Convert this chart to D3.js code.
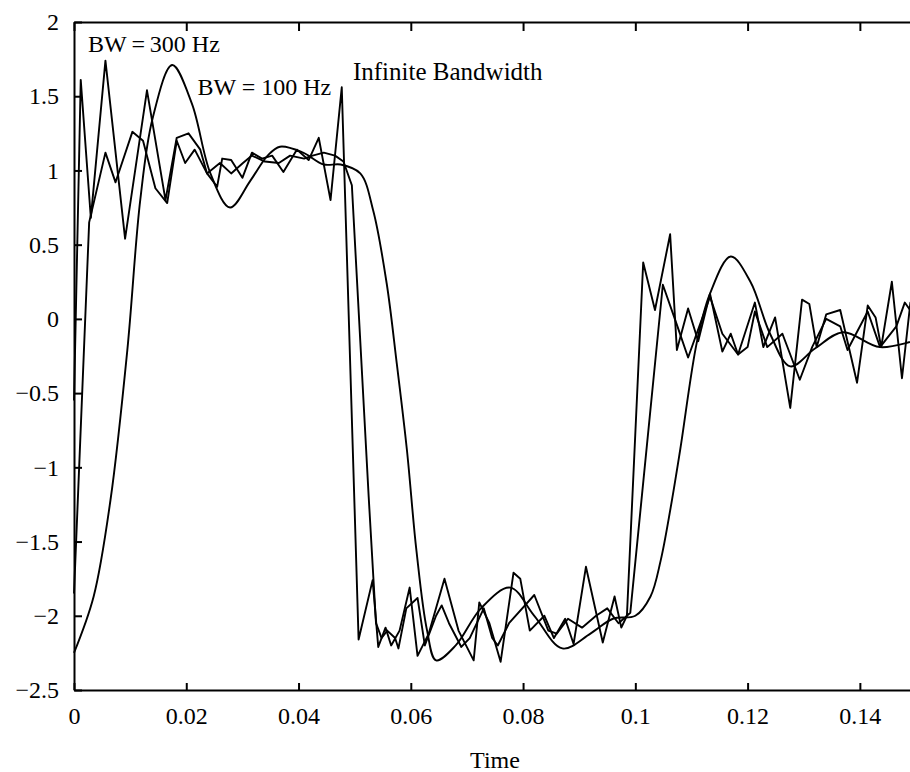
<!DOCTYPE html>
<html>
<head>
<meta charset="utf-8">
<title>Filtered signal</title>
<script src="https://cdn.jsdelivr.net/npm/d3@7"></script>
<style>
body, html {
  margin: 0;
  padding: 0;
  background: white;
  overflow: hidden;
}
text {
  font-family: "Liberation Serif", "DejaVu Serif", serif;
  fill: black;
}
.axis path,
.axis line {
  fill: none;
  stroke: black;
  stroke-width: 2;
}
.axis text {
  font-size: 24px;
}
.sig {
  fill: none;
  stroke: black;
  stroke-width: 1.9;
  stroke-linejoin: round;
}
</style>
</head>
<body>
<div id="chart"></div>
<script>

// tick labels
var xTicks = [0, 0.02, 0.04, 0.06, 0.08, 0.1, 0.12, 0.14]
var yTicks = [-2.5, -2, -1.5, -1, -0.5, 0, 0.5, 1, 1.5, 2]

// BW = 100 Hz (smooth), [time, value]
var bw100 = [
  [0, -2.25], [0.0035, -1.87], [0.0065, -1.22], [0.0095, -0.21], [0.0118, 0.8],
  [0.014, 1.35], [0.0175, 1.71], [0.021, 1.45], [0.0243, 0.98], [0.0278, 0.75],
  [0.0314, 0.93], [0.0345, 1.1], [0.0367, 1.16], [0.0408, 1.12], [0.0445, 1.04],
  [0.0475, 1.04], [0.051, 0.98], [0.0533, 0.73], [0.0557, 0.24], [0.0575, -0.3],
  [0.0593, -0.88], [0.061, -1.56], [0.0629, -2.1], [0.0645, -2.3], [0.068, -2.2],
  [0.0725, -1.95], [0.0777, -1.81], [0.082, -2.0], [0.087, -2.22], [0.092, -2.12],
  [0.096, -2.02], [0.1, -2.0], [0.1027, -1.87], [0.1045, -1.63], [0.1063, -1.27],
  [0.108, -0.88], [0.111, -0.15], [0.1133, 0.17], [0.117, 0.42], [0.1205, 0.25],
  [0.124, -0.1], [0.1276, -0.32], [0.132, -0.2], [0.137, -0.09], [0.1436, -0.19],
  [0.151, -0.13]
]

// BW = 300 Hz
var bw300 = [
  [0, -1.85], [0.0027, 0.65], [0.0056, 1.12], [0.0074, 0.92], [0.0104, 1.26],
  [0.0123, 1.2], [0.0145, 0.88], [0.0166, 0.78], [0.0183, 1.2], [0.0198, 1.05],
  [0.0215, 1.14], [0.0237, 0.98], [0.026, 1.05], [0.028, 0.98], [0.0301, 1.05],
  [0.0317, 1.1], [0.034, 1.06], [0.0365, 1.05], [0.0385, 1.1], [0.041, 1.08],
  [0.0425, 1.1], [0.0445, 1.12], [0.0465, 1.1], [0.048, 1.06], [0.0495, 0.9],
  [0.0525, -1.2], [0.0538, -2.05], [0.0548, -2.15], [0.0558, -2.1], [0.0572, -2.15],
  [0.0578, -2.22], [0.0592, -1.95], [0.0612, -1.88], [0.0625, -2.2], [0.0645, -2.0],
  [0.0655, -1.93], [0.0668, -2.05], [0.069, -2.21], [0.0705, -2.15], [0.073, -1.95],
  [0.0745, -2.15], [0.0755, -2.2], [0.0775, -2.05], [0.082, -1.86], [0.0845, -2.1],
  [0.086, -2.12], [0.088, -2.02], [0.0905, -2.08], [0.093, -2.0], [0.095, -1.95],
  [0.097, -2.05], [0.0991, -1.98], [0.1049, 0.23], [0.1075, -0.05], [0.1094, -0.26],
  [0.1133, 0.15], [0.1155, -0.1], [0.1183, -0.24], [0.12, -0.19], [0.1213, 0.05],
  [0.1235, -0.19], [0.1262, -0.1], [0.1293, -0.41], [0.1315, -0.19], [0.134, 0.0],
  [0.1365, -0.05], [0.1378, -0.21], [0.1414, 0.05], [0.1436, -0.19], [0.1465, -0.05],
  [0.148, 0.11], [0.151, -0.05]
]

// infinite bandwidth
var bwInf = [
  [0, -0.55], [0.0012, 1.61], [0.003, 0.68], [0.0056, 1.74], [0.0091, 0.54],
  [0.013, 1.54], [0.0163, 0.8], [0.0183, 1.22], [0.0204, 1.25], [0.0225, 1.14],
  [0.0237, 0.98], [0.0255, 0.89], [0.0264, 1.08], [0.028, 1.07], [0.03, 0.95],
  [0.0317, 1.12], [0.0335, 1.08], [0.0353, 1.1], [0.0373, 0.99], [0.0397, 1.14],
  [0.0418, 1.07], [0.0436, 1.22], [0.0457, 0.8], [0.0477, 1.56], [0.0507, -2.16],
  [0.0532, -1.76], [0.0542, -2.21], [0.0555, -2.08], [0.0565, -2.2], [0.058, -2.1],
  [0.0598, -1.81], [0.0612, -2.27], [0.0632, -2.12], [0.066, -1.75], [0.0685, -2.1],
  [0.0712, -2.3], [0.0722, -1.91], [0.074, -2.05], [0.076, -2.31], [0.0783, -1.71],
  [0.0795, -1.75], [0.0812, -2.1], [0.0838, -2.0], [0.0855, -2.15], [0.0875, -2.02],
  [0.089, -2.19], [0.0912, -1.67], [0.0942, -2.18], [0.0963, -1.87], [0.0975, -2.08],
  [0.0985, -2.0], [0.1014, 0.38], [0.1035, 0.06], [0.1062, 0.57], [0.1074, -0.21],
  [0.1094, 0.07], [0.1112, -0.15], [0.1133, 0.17], [0.1155, -0.22], [0.117, -0.1],
  [0.1183, -0.24], [0.1213, 0.11], [0.1228, -0.19], [0.1249, 0.01], [0.1276, -0.6],
  [0.1297, 0.13], [0.131, 0.1], [0.1323, -0.19], [0.134, 0.03], [0.1365, 0.06],
  [0.1395, -0.43], [0.1414, 0.09], [0.1428, 0.01], [0.1438, -0.19], [0.1457, 0.25],
  [0.1475, -0.4], [0.149, 0.11], [0.151, 0.0]
]

var labels = [
  {text: "BW\u2009=\u2009300 Hz", t: 0.0025, v: 1.8, size: 24},
  {text: "BW = 100 Hz", t: 0.022, v: 1.51, size: 24},
  {text: "Infinite Bandwidth", t: 0.0497, v: 1.61, size: 25}
]

var W = 910, H = 772
var svg = d3.select("#chart").append("svg")
  .attr("width", W)
  .attr("height", H)

var x = d3.scaleLinear().domain([0, 0.15]).range([74, 916])
var y = d3.scaleLinear().domain([-2.5, 2]).range([690, 22])

var fmt = function(d) { return d3.format("")(d).replace("-", "\u2212") }

// bottom axis, ticks pointing inward
svg.append("g")
  .attr("class", "axis")
  .attr("transform", "translate(0," + y(-2.5) + ")")
  .call(d3.axisBottom(x).tickValues(xTicks).tickFormat(fmt)
    .tickSizeInner(-7).tickSizeOuter(0).tickPadding(17))

// top border
svg.append("g")
  .attr("class", "axis")
  .attr("transform", "translate(0," + y(2) + ")")
  .call(d3.axisTop(x).tickValues(xTicks).tickFormat("")
    .tickSizeInner(-9).tickSizeOuter(0))

// left axis
svg.append("g")
  .attr("class", "axis")
  .attr("transform", "translate(" + x(0) + ",0)")
  .call(d3.axisLeft(y).tickValues(yTicks).tickFormat(fmt)
    .tickSizeInner(-8).tickSizeOuter(0).tickPadding(15))

svg.selectAll(".axis .tick text").style("font-family", "Liberation Serif")

var line = d3.line()
  .x(function(d) { return x(d[0]) })
  .y(function(d) { return y(d[1]) })

var smooth = d3.line()
  .curve(d3.curveCatmullRom.alpha(0.5))
  .x(function(d) { return x(d[0]) })
  .y(function(d) { return y(d[1]) })

svg.append("path").attr("class", "sig").attr("d", smooth(bw100))
svg.append("path").attr("class", "sig").attr("d", line(bw300))
svg.append("path").attr("class", "sig").attr("d", line(bwInf))

svg.selectAll(".lbl")
  .data(labels)
  .enter().append("text")
    .attr("class", "lbl")
    .attr("x", function(d) { return x(d.t) })
    .attr("y", function(d) { return y(d.v) })
    .style("font-size", function(d) { return d.size + "px" })
    .text(function(d) { return d.text })

svg.append("text")
  .attr("x", x(0.075))
  .attr("y", 768)
  .attr("text-anchor", "middle")
  .style("font-size", "24px")
  .text("Time")

</script>
</body>
</html>
